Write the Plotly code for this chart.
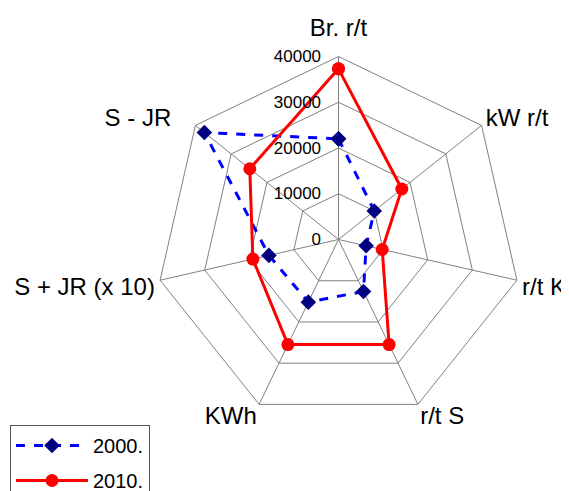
import plotly.graph_objects as go

categories = ["Br. r/t", "kW r/t", "r/t K", "r/t S", "KWh", "S + JR (x 10)", "S - JR"]
category_labels = ["<sup><span style='font-size:24px'>Br. r/t</span></sup>", "kW r/t", "r/t K",
                   "<sup><span style='font-size:24px'>r/t S</span></sup>",
                   "<sup><span style='font-size:24px'>KWh</span></sup>",
                   "S + JR (x 10)", "S - JR\u00a0\u00a0\u00a0"]
values_2000 = [22000, 10000, 6200, 12600, 15200, 15600, 37500]
values_2010 = [37300, 17700, 9800, 25500, 25500, 19200, 24800]
radial_ticks = [0, 10000, 20000, 30000, 40000]

def closed(v):
    return list(v) + [v[0]]

fig = go.Figure()
fig.add_trace(go.Scatterpolar(
    r=closed(values_2000), theta=closed(categories), name="2000.",
    mode="lines+markers", legendgroup="a",
    line=dict(color="#0000FF", width=3, dash="dash"),
    marker=dict(symbol="diamond", size=12, color="#000080"),
))
fig.add_trace(go.Scatterpolar(
    r=closed(values_2010), theta=closed(categories), name="2010.",
    mode="lines+markers", legendgroup="b",
    line=dict(color="#FF0000", width=3),
    marker=dict(symbol="circle", size=13, color="#FF0000"),
))

# the page body has an 8px default margin, so paper coords are offset by 8px
OFF = 8
W, H = 569, 491
cx, cy, R = 338.5 - OFF, 239.5 - OFF, 183
fig.update_layout(
    width=W, height=H,
    margin=dict(l=0, r=0, t=0, b=0, autoexpand=False),
    paper_bgcolor="white",
    font=dict(family="Liberation Sans, Arial, sans-serif", color="black"),
    polar=dict(
        domain=dict(x=[(cx - R) / W, (cx + R) / W], y=[(H - cy - R) / H, (H - cy + R) / H]),
        bgcolor="white",
        gridshape="linear",
        angularaxis=dict(
            direction="clockwise", rotation=90,
            tickvals=categories, ticktext=category_labels,
            linecolor="#808080", linewidth=1,
            gridcolor="#808080", gridwidth=1,
            tickfont=dict(size=24), ticks="",
        ),
        radialaxis=dict(
            range=[0, 40000], tickvals=radial_ticks, tickformat="d",
            angle=90, side="counterclockwise", tickangle=90,
            showline=False, gridcolor="#808080", gridwidth=1,
            tickfont=dict(size=17),
            ticks="outside", ticklen=11, tickcolor="rgba(0,0,0,0)",
        ),
    ),
    legend=dict(
        x=(10 - OFF) / W, y=(H - (425 - OFF)) / H, xanchor="left", yanchor="top",
        bordercolor="#555555", borderwidth=1, bgcolor="white",
        font=dict(size=20), itemwidth=72, tracegroupgap=6,
    ),
)

fig.write_html("out.html")
